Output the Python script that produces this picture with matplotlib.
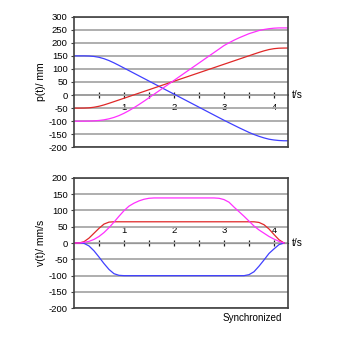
import numpy as np
import matplotlib
matplotlib.use("Agg")
import matplotlib.pyplot as plt

plt.rcParams['font.family'] = ['Liberation Sans', 'DejaVu Sans']

# time samples (s)
t = [0.0, 0.1, 0.2, 0.3, 0.4, 0.5, 0.6, 0.7, 0.8, 0.9,
     1.0, 1.1, 1.2, 1.3, 1.4, 1.5, 1.6, 1.7, 1.8, 1.9,
     2.0, 2.1, 2.2, 2.3, 2.4, 2.5, 2.6, 2.7, 2.8, 2.9,
     3.0, 3.1, 3.2, 3.3, 3.4, 3.5, 3.6, 3.7, 3.8, 3.9,
     4.0, 4.1, 4.2]
t_pos = t + [4.28]

# position p(t) in mm
p_blue = [150, 150, 150, 149.5, 147.8, 144.5, 139.2, 132, 123.2, 113.5,
          103.5, 93.5, 83.5, 73.5, 63.5, 53.5, 43.5, 33.5, 23.5, 13.5,
          3.5, -6.5, -16.5, -26.5, -36.5, -46.5, -56.5, -66.5, -76.5, -86.5,
          -96.5, -106, -115.5, -125, -134, -143, -151, -158, -164, -169,
          -172, -174, -175, -175]
p_red = [-50, -50, -49.8, -48.9, -46.6, -42.9, -37.7, -31.6, -25.2, -18.7,
         -12.2, -5.7, 0.9, 7.4, 13.9, 20.4, 26.9, 33.4, 39.9, 46.4,
         52.9, 59.4, 65.9, 72.4, 78.9, 85.4, 91.9, 98.4, 104.9, 111.4,
         117.9, 124.4, 130.9, 137.4, 143.9, 150.4, 156.9, 163.3, 169.2, 174.2,
         177.6, 179.4, 179.9, 180]
p_magenta = [-100, -100, -99.9, -99.6, -98.8, -97.3, -94.8, -91, -85.6, -78.6,
             -69.8, -59.6, -48.3, -36.2, -23.5, -10.4, 2.9, 16.2, 29.5, 42.8,
             56.1, 69.5, 82.8, 96.1, 109.4, 122.7, 136, 149.4, 162.7, 176,
             189.5, 200, 210, 219, 227, 235, 241, 247, 251, 254,
             256, 257, 257, 257]

# velocity v(t) in mm/s
v_blue = [0, 0, -1, -9, -24, -43, -63, -81, -94, -99,
          -100, -100, -100, -100, -100, -100, -100, -100, -100, -100,
          -100, -100, -100, -100, -100, -100, -100, -100, -100, -100,
          -100, -100, -100, -100, -100, -97, -88, -71, -52, -32,
          -18, -5, 0]
v_red = [0, 0, 4, 15, 30, 45, 58, 64, 65, 65,
         65, 65, 65, 65, 65, 65, 65, 65, 65, 65,
         65, 65, 65, 65, 65, 65, 65, 65, 65, 65,
         65, 65, 65, 65, 65, 65, 65, 63, 56, 43,
         26, 10, 0]
v_magenta = [0, 0, 2, 5, 11, 20, 32, 47, 64, 82,
             99, 113, 122, 129, 134, 137, 138, 138, 138, 138,
             138, 138, 138, 138, 138, 138, 138, 138, 138, 137,
             133, 125, 110, 96, 82, 67, 52, 40, 30, 20,
             12, 5, 0]

p_ticks = list(range(-200, 301, 50))
v_ticks = list(range(-200, 201, 50))
t_major = [1, 2, 3, 4]
t_minor = [0.5, 1.5, 2.5, 3.5]

c_blue = '#4040ff'
c_red = '#e02828'
c_magenta = '#ff30ff'
frame = '#404040'
fs = 6.8

fig = plt.figure(figsize=(3.42, 3.42), dpi=100)
ax1 = fig.add_axes([0.2164, 0.5693, 0.6257, 0.3819])
ax2 = fig.add_axes([0.2164, 0.0985, 0.6257, 0.3819])


def style(ax, ticks, ylabel):
    ax.set_xlim(0, 4.28)
    ax.set_ylim(ticks[0], ticks[-1])
    ax.set_yticks(ticks)
    ax.set_yticklabels([str(v) for v in ticks], fontsize=fs)
    ax.yaxis.grid(True, color='#a8a8a8', lw=1.3)
    ax.set_axisbelow(True)
    ax.tick_params(axis='y', direction='out', length=2.5, width=0.8,
                   color=frame, pad=2)
    ax.set_xticks([])
    for s in ax.spines.values():
        s.set_color(frame)
        s.set_linewidth(1.2)
    ax.set_ylabel(ylabel, fontsize=7.5, labelpad=2)

    # time axis through zero
    frac = (0 - ticks[0]) / (ticks[-1] - ticks[0])
    sec = ax.secondary_xaxis(frac)
    sec.set_xticks(t_major)
    sec.set_xticklabels([str(v) for v in t_major], fontsize=fs)
    sec.set_xticks(t_minor, minor=True)
    sec.tick_params(which='both', direction='inout', length=5, width=0.9,
                    color='#202020', pad=3.5)
    sec.spines['bottom'].set_color('#202020')
    sec.spines['bottom'].set_linewidth(1.1)
    ax.text(1.02, frac, 't/s', transform=ax.transAxes, fontsize=fs + 0.5,
            va='center', ha='left')


style(ax1, p_ticks, 'p(t)/ mm')
ax1.plot(t_pos, p_blue, color=c_blue, lw=0.9)
ax1.plot(t_pos, p_red, color=c_red, lw=0.9)
ax1.plot(t_pos, p_magenta, color=c_magenta, lw=0.9)

style(ax2, v_ticks, 'v(t)/ mm/s')
ax2.plot(t, v_blue, color=c_blue, lw=0.9)
ax2.plot(t, v_red, color=c_red, lw=0.9)
ax2.plot(t, v_magenta, color=c_magenta, lw=0.9)

fig.text(0.652, 0.071, 'Synchronized', fontsize=fs + 0.3, ha='left',
         va='center')

fig.savefig('out.png', dpi=100, facecolor='white')
